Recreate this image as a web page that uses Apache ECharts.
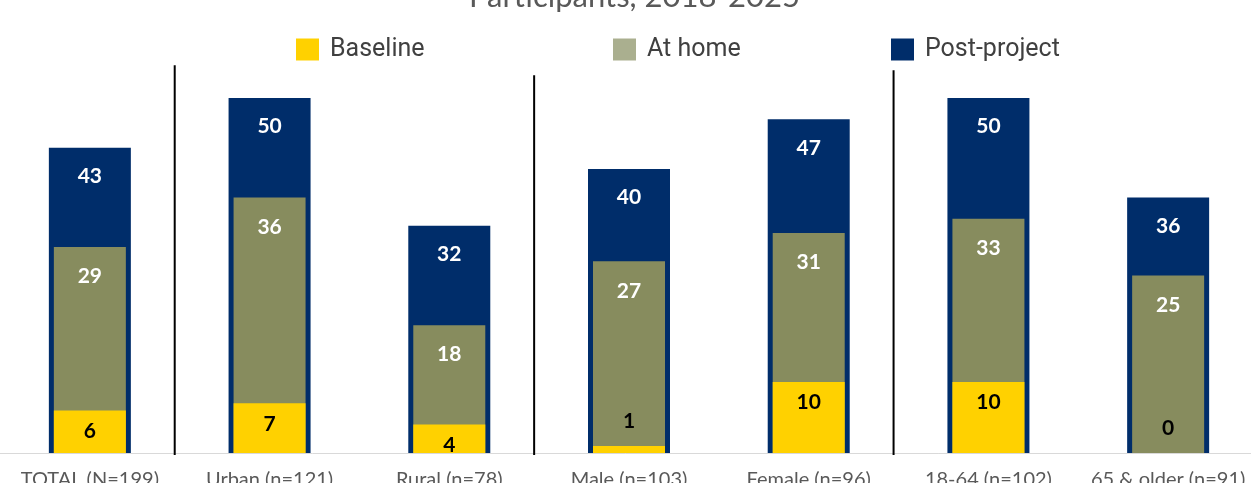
<!DOCTYPE html>
<html>
<head>
<meta charset="utf-8">
<script src="https://cdn.jsdelivr.net/npm/echarts@6/dist/echarts.min.js"></script>
<style>html,body{margin:0;padding:0;background:#fff;overflow:hidden}#c{width:1251px;height:483px}</style>
</head>
<body>
<div id="c"></div>
<script>
const categories = ['TOTAL (N=199)', 'Urban (n=121)', 'Rural (n=78)', 'Male (n=103)', 'Female (n=96)', '18-64 (n=102)', '65 & older (n=91)'];
const baseline = [6, 7, 4, 1, 10, 10, 0];
const atHome = [29, 36, 18, 27, 31, 33, 25];
const postProject = [43, 50, 32, 40, 47, 50, 36];
const separatorAfter = [0, 2, 4];
const separatorTop = [54.6, 53.2, 53.9];

const chart = echarts.init(document.getElementById('c'), null, {renderer: 'canvas'});
const labelFont = {fontFamily: 'Lato', fontWeight: 'bold', fontSize: 21};
const yellowData = baseline.map(v => ({
  value: v,
  label: v < 3 ? {position: 'top', distance: 14} : {position: 'insideTop', distance: 10}
}));

const option = {
  animation: false,
  title: {
    text: 'Participants, 2018-2025',
    left: 464, top: -24,
    textStyle: {fontFamily: 'Lato', fontWeight: 'normal', fontSize: 31, color: '#595959'}
  },
  legend: [
    {data: ['Baseline'], left: 291, top: 32},
    {data: ['At home'], left: 608, top: 32},
    {data: ['Post-project'], left: 886, top: 32}
  ].map(l => Object.assign(l, {
    icon: 'rect', itemWidth: 23, itemHeight: 22, itemGap: 10,
    textStyle: {fontFamily: 'Roboto', fontSize: 25, color: '#404040', padding: [0, 0, 0, 6]}
  })),
  grid: {left: 0, width: 1258, top: 27, bottom: 30, outerBoundsMode: 'none', containLabel: false},
  xAxis: [
    {type: 'category', data: categories,
     axisLine: {lineStyle: {color: '#D9D9D9', width: 1}},
     axisTick: {show: false},
     axisLabel: {fontFamily: 'Lato', fontSize: 20, color: '#595959', margin: 17, interval: 0}},
    {type: 'category', data: categories, show: false}
  ],
  yAxis: {type: 'value', min: 0, max: 60, show: false, splitLine: {show: false}},
  series: [
    {name: 'Baseline', type: 'bar', xAxisIndex: 0, data: yellowData, barWidth: 72, barGap: '-100%', z: 4,
     itemStyle: {color: '#FFD100'},
     label: Object.assign({show: true, color: '#000000'}, labelFont)},
    {name: 'At home', type: 'bar', xAxisIndex: 0, data: atHome, barWidth: 72, barGap: '-100%', z: 3,
     itemStyle: {color: '#878C5E'},
     label: Object.assign({show: true, position: 'insideTop', distance: 19, color: '#ffffff'}, labelFont)},
    {name: 'Post-project', type: 'bar', xAxisIndex: 1, data: postProject, barWidth: 82, z: 2,
     itemStyle: {color: '#002D6A'},
     label: Object.assign({show: true, position: 'insideTop', distance: 18, color: '#ffffff'}, labelFont)}
  ]
};
option.legend[1].itemStyle = {color: '#AAAF8F'};
chart.setOption(option);

// separator lines between category groups
const baseY = chart.convertToPixel({yAxisIndex: 0}, 0);
const graphics = separatorAfter.map((i, k) => {
  const x1 = chart.convertToPixel({xAxisIndex: 0}, categories[i]);
  const x2 = chart.convertToPixel({xAxisIndex: 0}, categories[i + 1]);
  const x = (x1 + x2) / 2 - 5;
  const yTop = chart.convertToPixel({yAxisIndex: 0}, separatorTop[k]);
  return {type: 'line', shape: {x1: x, y1: yTop, x2: x, y2: baseY + 2},
          style: {stroke: '#000000', lineWidth: 2}, z: 10};
});
chart.setOption({graphic: graphics});
</script>
</body>
</html>
